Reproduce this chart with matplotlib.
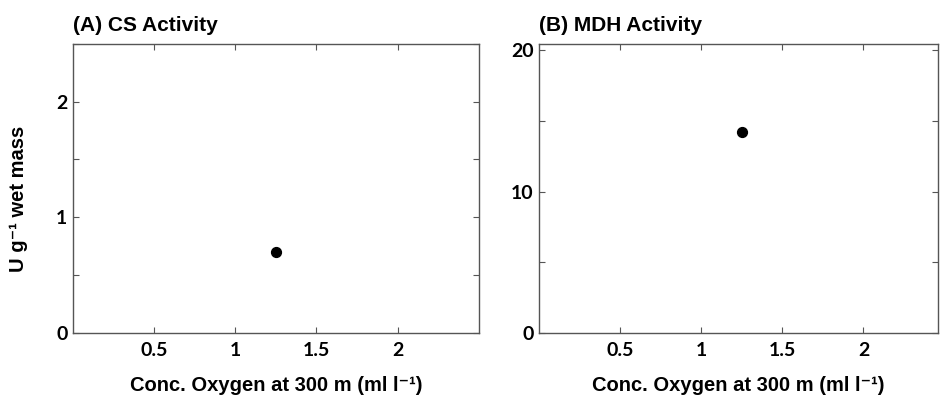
import matplotlib
matplotlib.use("Agg")
import matplotlib.pyplot as plt
from matplotlib.ticker import MultipleLocator, FixedLocator

# Data
oxygen_cs = [1.25]
cs_activity = [0.70]
oxygen_mdh = [1.25]
mdh_activity = [14.2]

x_ticks = [0.5, 1, 1.5, 2]
x_tick_labels = ["0.5", "1", "1.5", "2"]
cs_yticks = [0, 1, 2]
mdh_yticks = [0, 10, 20]

titles = ["(A) CS Activity", "(B) MDH Activity"]
xlabel = "Conc. Oxygen at 300 m (ml l\u207b\u00b9)"
ylabel = "U g\u207b\u00b9 wet mass"

W, H = 940, 398
fig = plt.figure(figsize=(W / 100, H / 100), dpi=100)

def px_axes(x0, x1, y0, y1):
    return fig.add_axes([x0 / W, 1 - y1 / H, (x1 - x0) / W, (y1 - y0) / H])

ax1 = px_axes(73, 478.7, 44, 332.7)
ax2 = px_axes(539.3, 938, 44, 332.7)

spine_col = "#555555"
tick_font = dict(family=["Lato", "DejaVu Sans"], weight="bold", size=14)
label_font = dict(family=["Liberation Sans", "DejaVu Sans"], weight="bold", size=14.5)

def style(ax, xmax, ylim, yticks, yminor):
    ax.set_xlim(0, xmax)
    ax.set_ylim(*ylim)
    ax.xaxis.set_major_locator(FixedLocator(x_ticks))
    ax.set_xticklabels(x_tick_labels, fontdict=tick_font)
    ax.yaxis.set_major_locator(FixedLocator(yticks))
    ax.set_yticklabels([str(v) for v in yticks], fontdict=tick_font)
    ax.yaxis.set_minor_locator(MultipleLocator(yminor))
    for s in ax.spines.values():
        s.set_color(spine_col)
        s.set_linewidth(1.0)
    ax.tick_params(which="both", direction="in", top=True, right=True,
                   color=spine_col, width=0.8)
    ax.tick_params(which="major", length=4)
    ax.tick_params(which="minor", length=4)
    ax.tick_params(axis="x", pad=7)
    ax.tick_params(axis="y", pad=4)
    ax.set_xlabel(xlabel, fontdict=label_font, labelpad=12)

style(ax1, 2.5, (0, 2.5), cs_yticks, 0.5)
style(ax2, 2.46, (0, 20.45), mdh_yticks, 5)

ax1.scatter(oxygen_cs, cs_activity, s=50, color="black", zorder=3)
ax2.scatter(oxygen_mdh, mdh_activity, s=50, color="black", zorder=3)

ax1.set_ylabel(ylabel, fontdict=label_font)
ax1.yaxis.set_label_coords(-0.11, 0.465)

for ax, t in zip([ax1, ax2], titles):
    ax.set_title(t, loc="left", fontdict=dict(family="Liberation Sans", weight="bold", size=15), pad=9)

fig.savefig("out.png", dpi=100)
